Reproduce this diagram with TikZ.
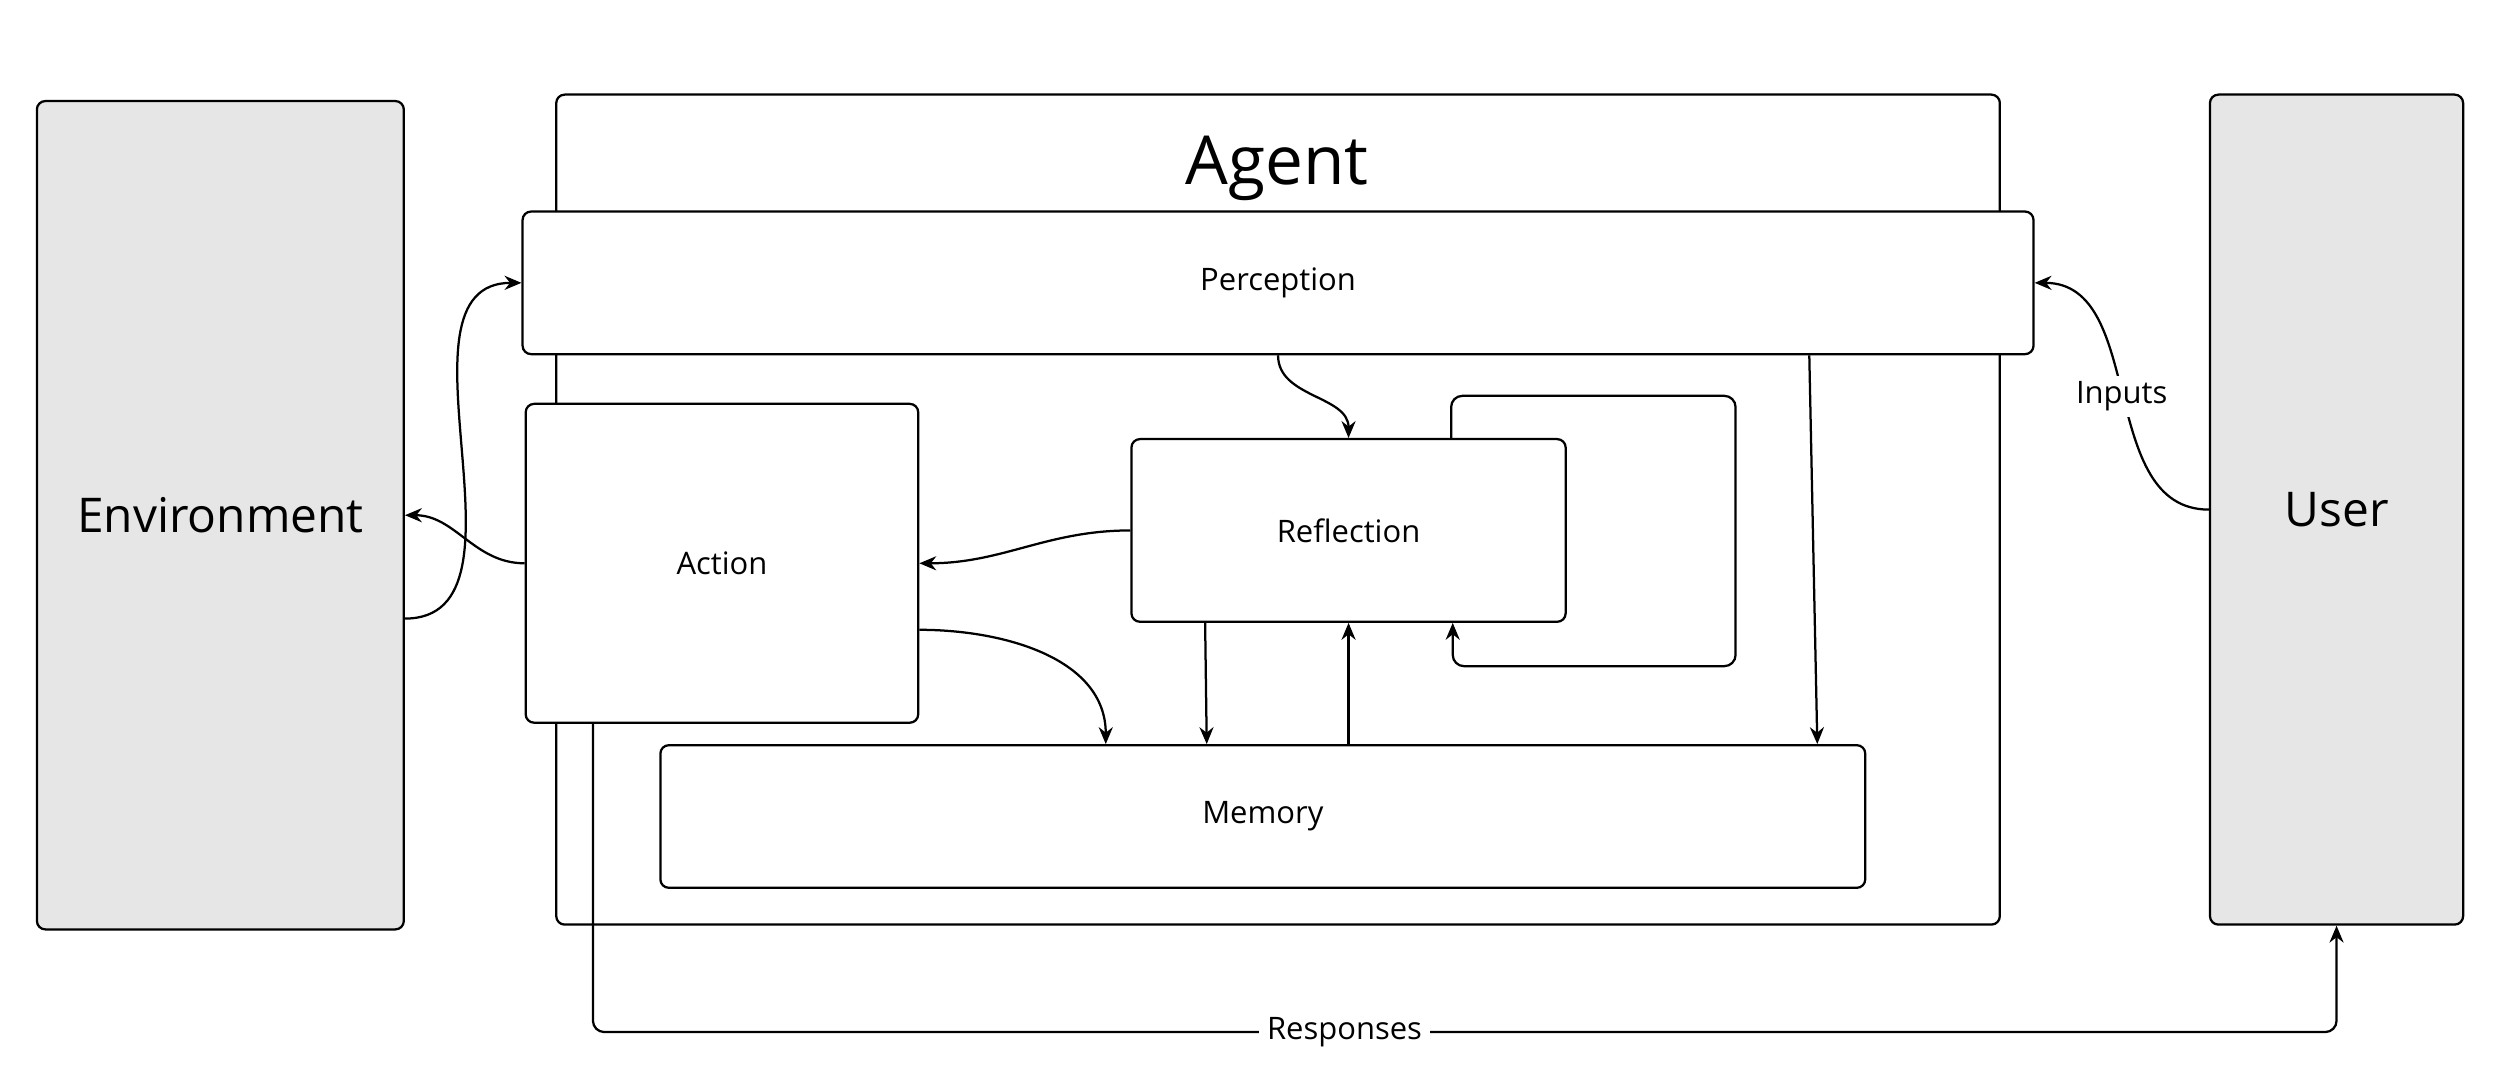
\documentclass[tikz,border=0pt]{standalone}
\usepackage{fontspec}
\setmainfont{Open Sans}
\usetikzlibrary{arrows.meta,calc,positioning}
\definecolor{boxgray}{HTML}{E6E6E6}
\begin{document}
\begin{tikzpicture}[x=0.02cm,y=0.02cm,% px units of the reference
					every node/.style={align=center,inner sep=0pt},
					block/.style={rectangle,rounded corners=3pt,draw=black,line width=0.8pt,fill=white,font=\fontsize{11}{13}\selectfont},
					side/.style={block,fill=boxgray,font=\fontsize{17}{20}\selectfont},
					link/.style={line width=0.8pt,-{Stealth[length=6pt,width=5pt]}}
					]
\useasboundingbox (0,0) rectangle (1560,-678);
\node[side,minimum width=4.58cm,minimum height=10.34cm](env) at (137.5,-321.5){Environment};
\node[side,minimum width=3.16cm,minimum height=10.36cm](user) at (1458,-318){User};
\node[block,minimum width=18.02cm,minimum height=10.36cm](agent) at (797.5,-318){};
\node[font=\fontsize{24}{28}\selectfont](title) at (797,-105){Agent};
\node[block,minimum width=18.86cm,minimum height=1.78cm](perc) at (797.5,-176.5){Perception};
\node[block,minimum width=4.9cm,minimum height=3.98cm](act) at (450.5,-351.5){Action};
\node[block,minimum width=5.42cm,minimum height=2.28cm](refl) at (841.5,-331){Reflection};
\node[block,minimum width=15.04cm,minimum height=1.78cm](mem) at (788,-509.5){Memory};
% self loop on reflection
\coordinate (loop) at (1083,-247);
\draw[link,rounded corners=4pt] ($(refl.north)+(64,0)$) |- (loop) |- ($(refl.south)+(65,-27)$) -- ($(refl.south)+(65,0)$);
% connectors
\draw[link] ($(env.east)+(0,-64.5)$) to[out=0,in=180] (perc.west);
\draw[link] (act.west) to[out=180,in=0] (env.east);
\draw[link] (perc.south) to[out=-90,in=90] (refl.north);
\draw[link] (refl.west) to[out=180,in=0] (act.east);
\draw[link] ($(act.east)+(0,-41.5)$) to[out=0,in=90] ($(mem.north)+(-98,0)$);
\draw[link] ($(refl.south)+(-89.5,0)$) -- ($(mem.north)+(-35,0)$);
\draw[link] ($(mem.north)+(53.5,0)$) -- (refl.south);
\draw[link] ($(perc.south)+(331.5,0)$) -- ($(mem.north)+(346,0)$);
\draw[link] (user.west) to[out=180,in=0] node[pos=0.5,fill=white,inner sep=2pt,font=\fontsize{11}{13}\selectfont]{Inputs} (perc.east);
\coordinate (resp) at (1458,-644);
\draw[link,rounded corners=4pt] ($(act.south)+(-80.5,0)$) |- (resp) -- (user.south);
\node[fill=white,inner sep=3pt,font=\fontsize{11}{13}\selectfont] at (839,-644){Responses};
\end{tikzpicture}
\end{document}
